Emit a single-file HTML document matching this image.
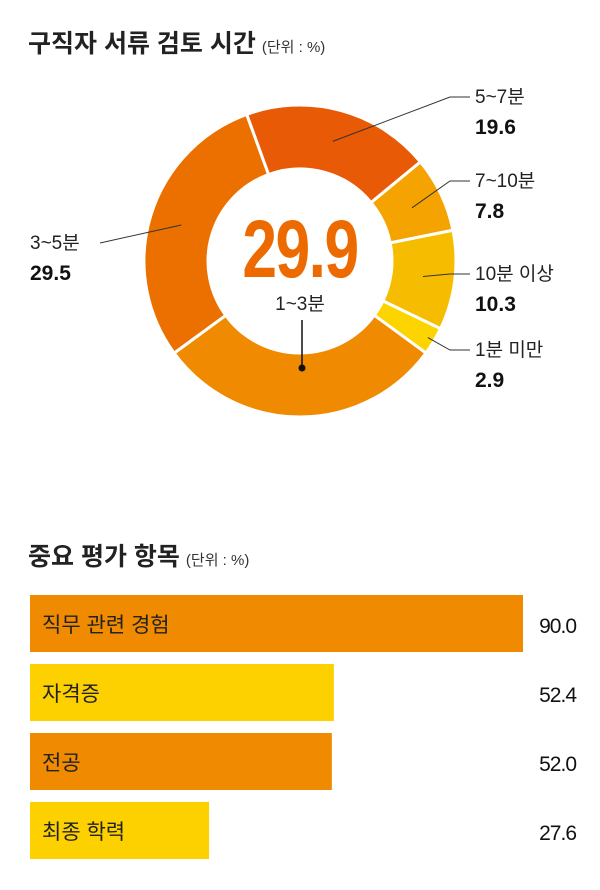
<!DOCTYPE html>
<html><head><meta charset="utf-8"><style>
body{margin:0;background:#fff;font-family:"Liberation Sans","Noto Sans CJK KR",sans-serif;}
svg text{font-family:"Liberation Sans","Noto Sans CJK KR",sans-serif;}
</style></head><body>
<svg id="c" width="600" height="885">
<text x="28" y="52" font-size="25" font-weight="bold" fill="#222">구직자 서류 검토 시간<tspan font-size="15" font-weight="normal" fill="#333" dx="6">(단위 : %)</tspan></text>
<text x="28" y="565" font-size="25" font-weight="bold" fill="#222">중요 평가 항목<tspan font-size="15" font-weight="normal" fill="#333" dx="6">(단위 : %)</tspan></text>
<g id="donut"></g><g id="bars"></g>
</svg>
<script>
const sliceNames=["5~7분","7~10분","10분 이상","1분 미만","1~3분","3~5분"];
const sliceValues=[19.6,7.8,10.3,2.9,29.9,29.5];
const sliceColors=["#e85a06","#f4a300","#f6bd00","#fcd500","#f08a00","#ec7000"];
const barNames=["직무 관련 경험","자격증","전공","최종 학력"];
const barValues=[90.0,52.4,52.0,27.6];
const barColors=["#f08a00","#fdd000","#f08a00","#fdd000"];
const NS="http://www.w3.org/2000/svg";
function mk(t,a,p){const e=document.createElementNS(NS,t);for(const k in a)e.setAttribute(k,a[k]);p.appendChild(e);return e;}
const cx=300,cy=261,R=156,r=92,start=-20;
const total=sliceValues.reduce((a,b)=>a+b,0);
function pt(deg,rad){const a=(deg-90)*Math.PI/180;return [cx+rad*Math.cos(a),cy+rad*Math.sin(a)];}
const dg=document.getElementById('donut');
let ang=start;
const labelPos=[{y:103,side:1},{y:187,side:1},{y:280,side:1},{y:356,side:1},null,{y:243,side:-1}];
sliceValues.forEach((v,i)=>{
 const a0=ang,a1=ang+v/total*360;ang=a1;
 const [x0,y0]=pt(a0,R),[x1,y1]=pt(a1,R),[x2,y2]=pt(a1,r),[x3,y3]=pt(a0,r);
 const lg=(a1-a0)>180?1:0;
 const p=mk('path',{d:`M${x0},${y0}A${R},${R} 0 ${lg} 1 ${x1},${y1}L${x2},${y2}A${r},${r} 0 ${lg} 0 ${x3},${y3}Z`,fill:sliceColors[i],stroke:'#fff','stroke-width':3},dg);
 
 
 const mid=(a0+a1)/2;const [mx,my]=pt(mid,(R+r)/2+(i==3?25:0));
 const lp=labelPos[i];
 if(lp){
  const lx=lp.side>0?470:100;
  const ln=mk('polyline',{points:`${mx},${my} ${lx-20} ${lp.y-6} ${lx} ${lp.y-6}`,fill:'none',stroke:'#333','stroke-width':1},dg);
  if(lp.side<0) ln.setAttribute('points',`${mx},${my} ${lx},${lp.y}`);
  
  
  const tx=lp.side>0?475:30;
  const t1=mk('text',{x:tx,y:lp.y+(lp.side<0?6:0),'font-size':19,fill:'#222'},dg);t1.textContent=sliceNames[i];
  
  
  const t2=mk('text',{x:tx,y:lp.y+(lp.side<0?37:31),'font-size':21,'font-weight':'bold',fill:'#111'},dg);t2.textContent=sliceValues[i].toFixed(1);
  
  
 }
});
const big=mk('text',{x:cx,y:277,'text-anchor':'middle','font-size':82,'font-weight':'bold',fill:'#ec6a00',transform:`translate(${cx},0) scale(0.76,1) translate(${-cx},0)`,'letter-spacing':'-2'},dg);
big.textContent=sliceValues[4].toFixed(1);


const cl=mk('text',{x:cx,y:310,'text-anchor':'middle','font-size':19,fill:'#222'},dg);cl.textContent=sliceNames[4];


const ll=mk('line',{x1:cx+2,y1:320,x2:cx+2,y2:368,stroke:'#111','stroke-width':1.5},dg);


const dot=mk('circle',{cx:cx+2,cy:368,r:3.5,fill:'#111'},dg);


const bg=document.getElementById('bars');
const x0b=30,offset=8,scale=493/(90+offset);
function xs(v){return (v+offset)*scale;}
barValues.forEach((v,i)=>{
 const y=595+i*69;
 const b=mk('rect',{x:x0b,y:y,width:xs(v),height:57,fill:barColors[i]},bg);
 
 
 const t=mk('text',{x:42,y:y+37,'font-size':21,fill:'#222'},bg);t.textContent=barNames[i];
 
 
 const tv=mk('text',{x:576,y:y+38,'text-anchor':'end','font-size':21,fill:'#111','letter-spacing':'-1'},bg);tv.textContent=v.toFixed(1);
 
 
});
</script>
</body></html>
